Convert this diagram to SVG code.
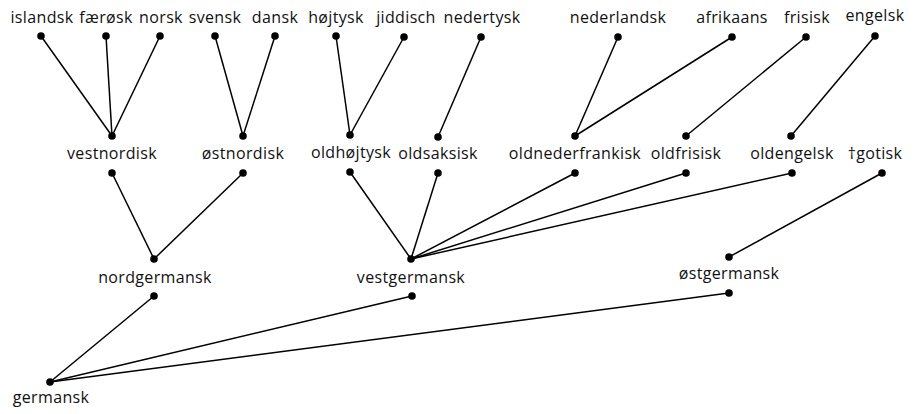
<svg xmlns="http://www.w3.org/2000/svg" width="916" height="414" viewBox="0 0 916 414">
<style>
text{font-family:"Open Sans","Noto Sans",sans-serif;font-size:16px;letter-spacing:0.35px;fill:#111;text-anchor:middle}
.dot{fill:#000}
#connectors line{stroke:#000;stroke-width:1.5;fill:none}
</style>
<rect width="916" height="414" fill="#fff"/>
<g id="connectors">
<line x1="41" y1="36" x2="112" y2="136"/>
<line x1="106" y1="36" x2="112" y2="136"/>
<line x1="160" y1="36" x2="112" y2="136"/>
<line x1="215" y1="36" x2="243" y2="136"/>
<line x1="275" y1="36" x2="243" y2="136"/>
<line x1="336" y1="36" x2="350" y2="135"/>
<line x1="404" y1="37" x2="350" y2="135"/>
<line x1="481" y1="37" x2="438" y2="137"/>
<line x1="618" y1="37" x2="575" y2="136"/>
<line x1="732" y1="37" x2="575" y2="136"/>
<line x1="806" y1="37" x2="686" y2="136"/>
<line x1="875" y1="36" x2="791" y2="136"/>
<line x1="112" y1="173" x2="154" y2="259"/>
<line x1="243" y1="173" x2="154" y2="259"/>
<line x1="350" y1="172" x2="411" y2="259"/>
<line x1="438" y1="173" x2="411" y2="259"/>
<line x1="575" y1="173" x2="411" y2="259"/>
<line x1="686" y1="173" x2="411" y2="259"/>
<line x1="792" y1="173" x2="411" y2="259"/>
<line x1="882" y1="173" x2="729" y2="257"/>
<line x1="154" y1="296" x2="50" y2="382"/>
<line x1="412" y1="296" x2="50" y2="382"/>
<line x1="729" y1="293" x2="50" y2="382"/>
</g>
<g id="islandsk"><text x="42" y="23">islandsk</text><circle class="dot" cx="41" cy="36" r="3.8"/></g>
<g id="faeroesk"><text x="106" y="23">færøsk</text><circle class="dot" cx="106" cy="36" r="3.8"/></g>
<g id="norsk"><text x="161" y="23">norsk</text><circle class="dot" cx="160" cy="36" r="3.8"/></g>
<g id="svensk"><text x="215" y="23">svensk</text><circle class="dot" cx="215" cy="36" r="3.8"/></g>
<g id="dansk"><text x="275" y="23">dansk</text><circle class="dot" cx="275" cy="36" r="3.8"/></g>
<g id="hoejtysk"><text x="336" y="23">højtysk</text><circle class="dot" cx="336" cy="36" r="3.8"/></g>
<g id="jiddisch"><text x="406" y="23">jiddisch</text><circle class="dot" cx="404" cy="37" r="3.8"/></g>
<g id="nedertysk"><text x="482" y="23">nedertysk</text><circle class="dot" cx="481" cy="37" r="3.8"/></g>
<g id="nederlandsk"><text x="618" y="23">nederlandsk</text><circle class="dot" cx="618" cy="37" r="3.8"/></g>
<g id="afrikaans"><text x="732" y="23">afrikaans</text><circle class="dot" cx="732" cy="37" r="3.8"/></g>
<g id="frisisk"><text x="807" y="23">frisisk</text><circle class="dot" cx="806" cy="37" r="3.8"/></g>
<g id="engelsk"><text x="875" y="21">engelsk</text><circle class="dot" cx="875" cy="36" r="3.8"/></g>
<g id="vestnordisk"><text x="112" y="159">vestnordisk</text><circle class="dot" cx="112" cy="136" r="3.8"/><circle class="dot" cx="112" cy="173" r="3.8"/></g>
<g id="oestnordisk"><text x="243" y="159">østnordisk</text><circle class="dot" cx="243" cy="136" r="3.8"/><circle class="dot" cx="243" cy="173" r="3.8"/></g>
<g id="oldhoejtysk"><text x="351" y="158">oldhøjtysk</text><circle class="dot" cx="350" cy="135" r="3.8"/><circle class="dot" cx="350" cy="172" r="3.8"/></g>
<g id="oldsaksisk"><text x="438" y="159">oldsaksisk</text><circle class="dot" cx="438" cy="137" r="3.8"/><circle class="dot" cx="438" cy="173" r="3.8"/></g>
<g id="oldnederfrankisk"><text x="575" y="159">oldnederfrankisk</text><circle class="dot" cx="575" cy="136" r="3.8"/><circle class="dot" cx="575" cy="173" r="3.8"/></g>
<g id="oldfrisisk"><text x="686" y="159">oldfrisisk</text><circle class="dot" cx="686" cy="136" r="3.8"/><circle class="dot" cx="686" cy="173" r="3.8"/></g>
<g id="oldengelsk"><text x="792" y="159">oldengelsk</text><circle class="dot" cx="791" cy="136" r="3.8"/><circle class="dot" cx="792" cy="173" r="3.8"/></g>
<g id="gotisk"><text x="875" y="159">†gotisk</text><circle class="dot" cx="882" cy="173" r="3.8"/></g>
<g id="nordgermansk"><text x="155" y="283">nordgermansk</text><circle class="dot" cx="154" cy="259" r="3.8"/><circle class="dot" cx="154" cy="296" r="3.8"/></g>
<g id="vestgermansk"><text x="411" y="283">vestgermansk</text><circle class="dot" cx="411" cy="259" r="3.8"/><circle class="dot" cx="412" cy="296" r="3.8"/></g>
<g id="oestgermansk"><text x="729" y="279">østgermansk</text><circle class="dot" cx="729" cy="257" r="3.8"/><circle class="dot" cx="729" cy="293" r="3.8"/></g>
<g id="germansk"><text x="51" y="403">germansk</text><circle class="dot" cx="50" cy="382" r="3.8"/></g>
</svg>
